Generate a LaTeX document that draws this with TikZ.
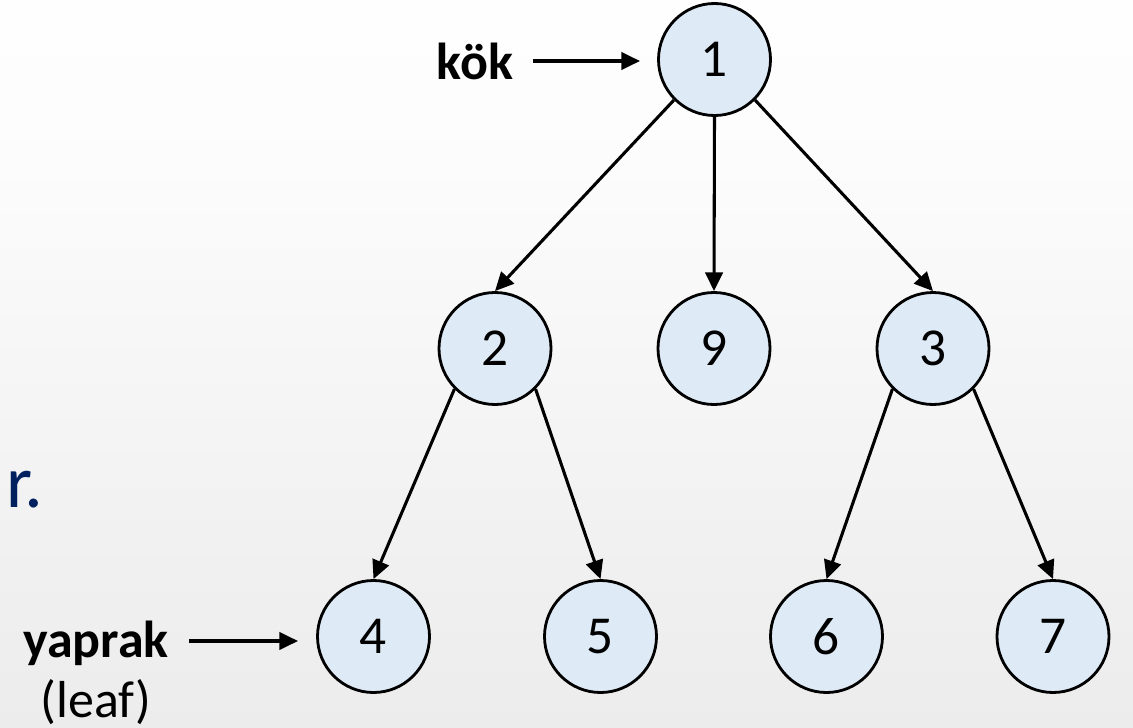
\documentclass[tikz,border=0pt]{standalone}
\usepackage{fontspec}
\setmainfont{Carlito}
\usetikzlibrary{arrows.meta}
\definecolor{nodefill}{HTML}{DEEAF6}
\definecolor{navy}{HTML}{002060}
\pgfdeclareverticalshading{bgshade}{100bp}{color(0bp)=(black!11); color(35bp)=(black!6); color(65bp)=(black!1); color(80bp)=(white); color(100bp)=(white)}
\begin{document}
\begin{tikzpicture}[x=0.75pt,y=-0.75pt,
  tnode/.style={circle,draw=black,line width=2.1pt,fill=nodefill,minimum size=84pt,inner sep=0pt,font=\fontsize{40}{44}\selectfont},
  lbl/.style={font=\fontsize{39}{44}\selectfont\bfseries,anchor=base,inner sep=0pt},
  edge/.style={line width=2.3pt,-{Triangle[length=14pt,width=13pt]}}
]
\shade[shading=bgshade] (0,0) rectangle (1133,728);
\useasboundingbox (0,0) rectangle (1133,728);

\node[tnode] (n1) at (714.5,59.5) {1};
\node[tnode] (n2) at (495,348.5) {2};
\node[tnode] (n9) at (714,348.5) {9};
\node[tnode] (n3) at (933,348.5) {3};
\node[tnode] (n4) at (373.5,636.5) {4};
\node[tnode] (n5) at (600.5,636.5) {5};
\node[tnode] (n6) at (826.5,636.5) {6};
\node[tnode] (n7) at (1053,636.5) {7};

\draw[edge] (n1.south west) -- (n2.north);
\draw[edge] (n1.south) -- (n9.north);
\draw[edge] (n1.south east) -- (n3.north);
\draw[edge] (n2.south west) -- (n4.north);
\draw[edge] (n2.south east) -- (n5.north);
\draw[edge] (n3.south west) -- (n6.north);
\draw[edge] (n3.south east) -- (n7.north);

\node[lbl] (kok) at (475,79) {kök};
\coordinate (kokstart) at (533,61);
\coordinate (kokend) at (640,61);
\draw[edge] (kokstart) -- (kokend);

\node[lbl] (yaprak) at (96,657) {yaprak};
\node[font=\fontsize{39}{44}\selectfont,anchor=base,inner sep=0pt] (leaf) at (96,717) {(leaf)};
\coordinate (ystart) at (189,641);
\coordinate (yend) at (298,641);
\draw[edge] (ystart) -- (yend);

\node[font=\fontsize{56}{60}\selectfont,text=navy,anchor=base west,inner sep=0pt] (rdot) at (6,507) {r.};
\end{tikzpicture}
\end{document}
